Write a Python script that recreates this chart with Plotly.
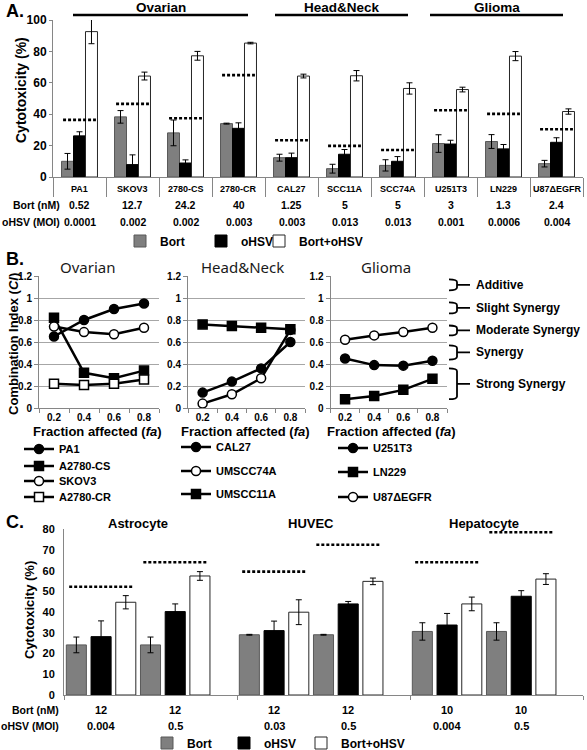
import plotly.graph_objects as go

# ---------------- Panel A data ----------------
cells_A = ["PA1", "SKOV3", "2780-CS", "2780-CR", "CAL27", "SCC11A", "SCC74A", "U251T3", "LN229", "U87ΔEGFR"]
bort_nM_A = ["0.52", "12.7", "24.2", "40", "1.25", "5", "5", "3", "1.3", "2.4"]
ohsv_moi_A = ["0.0001", "0.002", "0.002", "0.003", "0.003", "0.013", "0.013", "0.001", "0.0006", "0.004"]
bort_A = [10, 38.3, 28.1, 34, 12.3, 5.3, 7.4, 21.3, 22.6, 8.5]
bort_A_err = [5, 4, 8.2, 0.3, 2.2, 2.8, 3.6, 5.6, 4.4, 2.1]
ohsv_A = [26.2, 7.9, 8.9, 31, 12.3, 14.5, 10, 21, 17.9, 22.1]
ohsv_A_err = [2.6, 6.2, 2, 3.5, 2.9, 3, 3, 2.4, 2.8, 2.9]
combo_A = [92.6, 64.3, 77.2, 85.3, 64.3, 64.5, 56.4, 55.7, 77, 41.7]
combo_A_err = [7.7, 2.5, 2.8, 0.5, 1.2, 3.3, 3.6, 1.5, 2.9, 1.7]
expected_A = [36.4, 46.6, 37.4, 64.9, 23.4, 19.8, 17.2, 42.5, 40.2, 30.4]
groups_A = ["Ovarian", "Head&Neck", "Glioma"]

# ---------------- Panel B data ----------------
fa = [0.2, 0.4, 0.6, 0.8]
fa_labels = ["0.2", "0.4", "0.6", "0.8"]
titles_B = ["Ovarian", "Head&Neck", "Glioma"]
ov_names = ["PA1", "A2780-CS", "SKOV3", "A2780-CR"]
ov_PA1 = [0.65, 0.80, 0.90, 0.95]
ov_A2780CS = [0.82, 0.32, 0.27, 0.34]
ov_SKOV3 = [0.74, 0.69, 0.67, 0.73]
ov_A2780CR = [0.22, 0.21, 0.22, 0.26]
hn_names = ["CAL27", "UMSCC74A", "UMSCC11A"]
hn_CAL27 = [0.14, 0.24, 0.36, 0.60]
hn_UMSCC74A = [0.04, 0.125, 0.27, 0.71]
hn_UMSCC11A = [0.76, 0.745, 0.73, 0.715]
gl_names = ["U251T3", "LN229", "U87ΔEGFR"]
gl_U251T3 = [0.45, 0.39, 0.385, 0.43]
gl_LN229 = [0.08, 0.11, 0.165, 0.265]
gl_U87 = [0.62, 0.66, 0.69, 0.73]
ci_labels = ["Additive", "Slight Synergy", "Moderate Synergy", "Synergy", "Strong Synergy"]
ci_low = [1.07, 0.86, 0.66, 0.44, 0.08]
ci_high = [1.17, 0.96, 0.75, 0.57, 0.36]

# ---------------- Panel C data ----------------
cells_C = ["Astrocyte", "HUVEC", "Hepatocyte"]
bort_nM_C = ["12", "12", "12", "12", "10", "10"]
ohsv_moi_C = ["0.004", "0.5", "0.03", "0.5", "0.004", "0.5"]
bort_C = [24.2, 24.2, 29.1, 29.1, 30.7, 30.7]
bort_C_err = [3.8, 3.8, 0.2, 0.2, 4.2, 4.2]
ohsv_C = [28.2, 40.3, 31.1, 44.0, 33.8, 47.7]
ohsv_C_err = [7.6, 3.7, 4.6, 1.2, 5.6, 2.7]
combo_C = [44.8, 57.5, 40.0, 54.9, 44.0, 56.0]
combo_C_err = [3.2, 2.1, 6.0, 1.6, 3.3, 2.6]
expected_C = [52.3, 64.1, 59.6, 72.6, 64.1, 78.6]

series_names = ["Bort", "oHSV", "Bort+oHSV"]

# ---------------- helpers / style ----------------
FONT = "Liberation Sans, Arial, sans-serif"
W, H = 587, 750
AXC = "#868686"
GRAY = "#7f7f7f"


def px(x):
    return x / W


def py(y):
    return 1 - y / H


bar_styles = [(GRAY, "#595959"), ("black", "black"), ("white", "#262626")]

fig = go.Figure()
legends = {}
_lc = [0]


def new_legend(x_px, y_px, size):
    _lc[0] += 1
    n = _lc[0]
    name = "legend" if n == 1 else f"legend{n}"
    legends[name] = dict(x=px(x_px), y=py(y_px), xanchor="left", yanchor="middle",
                         bgcolor="rgba(0,0,0,0)", borderwidth=0, itemwidth=30,
                         font=dict(family=FONT, size=size, color="black", weight="bold"))
    return name


ann = []


def text(x, y, s, size, xref="paper", yref="paper", xanchor="center", yanchor="middle",
         weight="bold", family=FONT, angle=0, color="black"):
    ann.append(dict(x=x, y=y, xref=xref, yref=yref, text=s, showarrow=False,
                    xanchor=xanchor, yanchor=yanchor, textangle=angle,
                    font=dict(family=family, size=size, color=color, weight=weight)))


shapes = []

# ---------------- Panel A ----------------
wA = 0.226
series_A = [(bort_A, bort_A_err), (ohsv_A, ohsv_A_err), (combo_A, combo_A_err)]
legA_pos = [(120, 241), (201, 241), (259, 241)]
for j, (vals, errs) in enumerate(series_A):
    fc, lc = bar_styles[j]
    lg = new_legend(legA_pos[j][0], legA_pos[j][1], 12)
    fig.add_trace(go.Bar(
        x=cells_A, y=vals, name=series_names[j], width=wA, offset=(j - 1) * wA - wA / 2,
        marker=dict(color=fc, line=dict(color=lc, width=1)),
        error_y=dict(type="data", array=errs, color="black", thickness=1, width=3),
        xaxis="x", yaxis="y", legend=lg, showlegend=True))

for i, v in enumerate(expected_A):
    shapes.append(dict(type="line", xref="x", yref="y", x0=i - 0.31, x1=i + 0.31, y0=v, y1=v,
                       line=dict(color="black", width=2.6, dash="3px,2px")))

header_lines_px = [(73, 248), (275, 408), (430, 563)]
for g, (a, b) in zip(groups_A, header_lines_px):
    shapes.append(dict(type="line", xref="paper", yref="paper", x0=px(a), x1=px(b), y0=py(15), y1=py(15),
                       line=dict(color="black", width=2.5)))
    text(px((a + b) / 2), py(7.5), g, 13.5)

for i, c in enumerate(cells_A):
    text(c, py(188.5), c, 9, xref="x")
    text(c, py(205), bort_nM_A[i], 10.5, xref="x")
    text(c, py(222), ohsv_moi_A[i], 10.5, xref="x")
text(px(62), py(205), "Bort (nM)", 10.5, xanchor="right")
text(px(62), py(222), "oHSV (MOI)", 10.5, xanchor="right")
text(px(21), py(90), "Cytotoxicity (%)", 14, angle=-90)
text(px(4), py(11), "A.", 18, xanchor="left")

# ---------------- Panel B ----------------
B_sets = [
    ("x2", "y2", [(ov_names[0], ov_PA1, "circle", "black"),
                  (ov_names[1], ov_A2780CS, "square", "black"),
                  (ov_names[2], ov_SKOV3, "circle", "white"),
                  (ov_names[3], ov_A2780CR, "square", "white")],
     19, [449, 466, 481, 497]),
    ("x3", "y3", [(hn_names[0], hn_CAL27, "circle", "black"),
                  (hn_names[1], hn_UMSCC74A, "circle", "white"),
                  (hn_names[2], hn_UMSCC11A, "square", "black")],
     176, [447, 471, 494]),
    ("x4", "y4", [(gl_names[0], gl_U251T3, "circle", "black"),
                  (gl_names[1], gl_LN229, "square", "black"),
                  (gl_names[2], gl_U87, "circle", "white")],
     333, [448, 472, 497]),
]
for xa, ya, series, lx, lys in B_sets:
    for (name, vals, sym, fill), ly in zip(series, lys):
        lg = new_legend(lx, ly, 11)
        fig.add_trace(go.Scatter(
            x=fa, y=vals, name=name, mode="lines+markers",
            line=dict(color="black", width=2.5),
            marker=dict(symbol=sym, size=9, color=fill, line=dict(color="black", width=1.5)),
            xaxis=xa, yaxis=ya, legend=lg, showlegend=True))

B_dom_x = [(39, 159), (188, 305), (330.5, 447)]
B_title_x = [88, 242, 386]
B_xtitle_x = [97, 245, 391]
for t, tx, xx in zip(titles_B, B_title_x, B_xtitle_x):
    text(px(tx), py(267), t, 15, weight="normal", family="Noto Sans, Open Sans, sans-serif", color="#1a1a1a")
    text(px(xx), py(432), "Fraction affected (<i>fa</i>)", 13)
text(px(13), py(344), "Combination Index (<i>CI</i>)", 13, angle=-90)
text(px(4), py(259), "B.", 18, xanchor="left")

BX0, BX1, BX2 = px(449), px(457), px(470)
for lab, lo, hi in zip(ci_labels, ci_low, ci_high):
    mid = (lo + hi) / 2
    r = 0.025
    path = (f"M {BX0},{hi} Q {BX1},{hi} {BX1},{hi - r} L {BX1},{lo + r} Q {BX1},{lo} {BX0},{lo} "
            f"M {BX1},{mid} L {BX2},{mid}")
    shapes.append(dict(type="path", xref="paper", yref="y4", path=path,
                       line=dict(color="black", width=1.8)))
    text(px(474), mid, lab, 12, yref="y4", xanchor="left")

# ---------------- Panel C ----------------
wC = 0.116
slot = 1 / 7
series_C = [(bort_C, bort_C_err), (ohsv_C, ohsv_C_err), (combo_C, combo_C_err)]
legC_pos = [(147, 743), (224, 743), (301, 743)]
legC_names = [None, None, None]
for s in range(2):
    for j, (vals, errs) in enumerate(series_C):
        fc, lc = bar_styles[j]
        k = 3 * s + j
        center = -0.5 + (k + 0.5) * slot
        if s == 0:
            legC_names[j] = new_legend(legC_pos[j][0], legC_pos[j][1], 12)
        fig.add_trace(go.Bar(
            x=cells_C, y=[vals[2 * g + s] for g in range(3)],
            name=series_names[j], width=wC, offset=center - wC / 2,
            marker=dict(color=fc, line=dict(color=lc, width=1)),
            error_y=dict(type="data", array=[errs[2 * g + s] for g in range(3)],
                         color="black", thickness=1, width=3),
            xaxis="x5", yaxis="y5", legend=legC_names[j], showlegend=(s == 0)))

for g in range(3):
    text(g - 0.5 + 3 * slot, py(523), cells_C[g], 13, xref="x5")
    for s in range(2):
        idx = 2 * g + s
        x0 = g - 0.5 + 3 * s * slot + 0.03
        x1 = g - 0.5 + (3 * s + 3) * slot - 0.03
        shapes.append(dict(type="line", xref="x5", yref="y5", x0=x0, x1=x1,
                           y0=expected_C[idx], y1=expected_C[idx],
                           line=dict(color="black", width=2.6, dash="3px,2px")))
        xc = g - 0.5 + (3 * s + 1.5) * slot
        text(xc, py(710), bort_nM_C[idx], 11, xref="x5")
        text(xc, py(725.5), ohsv_moi_C[idx], 11, xref="x5")
text(px(61), py(710), "Bort (nM)", 10.5, xanchor="right")
text(px(61), py(725.5), "oHSV (MOI)", 10.5, xanchor="right")
text(px(29), py(610), "Cytotoxicity (%)", 13, angle=-90)
text(px(4), py(522), "C.", 18, xanchor="left")

# ---------------- axes ----------------
tf = lambda s: dict(family=FONT, size=s, color="black", weight="bold")


def b_xaxis(dom, anchor):
    return dict(domain=[px(dom[0]), px(dom[1])], anchor=anchor, range=[0.1, 0.9], automargin=False,
                tickvals=fa, ticktext=fa_labels, ticks="", showline=True, linecolor=AXC,
                showgrid=False, zeroline=False, tickfont=tf(10), fixedrange=True,
                minor=dict(tick0=0.1, dtick=0.2, ticks="outside", ticklen=4, tickcolor=AXC, showgrid=False))


def b_yaxis(anchor):
    return dict(domain=[py(408), py(276)], anchor=anchor, range=[0, 1.2], dtick=0.2, tick0=0,
                automargin=False, showgrid=True, gridcolor="#a6a6a6", gridwidth=1, showline=True,
                linecolor=AXC, ticks="outside", ticklen=4, tickcolor=AXC, zeroline=False,
                tickfont=tf(10), fixedrange=True)


layout = dict(
    template="none",
    width=W, height=H, margin=dict(l=0, r=0, t=0, b=0, autoexpand=False),
    plot_bgcolor="white", paper_bgcolor="white", barmode="overlay",
    font=dict(family=FONT, color="black"),
    xaxis=dict(domain=[px(53), px(583)], anchor="y", type="category", range=[-0.5, 9.5], automargin=False,
               showline=True, linecolor=AXC, ticks="outside", tickson="boundaries", ticklen=19,
               tickcolor=AXC, showticklabels=False, showgrid=False, zeroline=False, fixedrange=True),
    yaxis=dict(domain=[py(177), py(20)], anchor="x", range=[0, 100], dtick=20, showline=True,
               automargin=False, linecolor=AXC, ticks="outside", ticklen=3, tickcolor=AXC,
               showgrid=False, zeroline=False, tickfont=tf(12), fixedrange=True),
    xaxis2=b_xaxis(B_dom_x[0], "y2"), yaxis2=b_yaxis("x2"),
    xaxis3=b_xaxis(B_dom_x[1], "y3"), yaxis3=b_yaxis("x3"),
    xaxis4=b_xaxis(B_dom_x[2], "y4"), yaxis4=b_yaxis("x4"),
    xaxis5=dict(domain=[px(64), px(583)], anchor="y5", type="category", range=[-0.5, 2.5], automargin=False,
                showline=True, linecolor=AXC, ticks="outside", tickson="boundaries", ticklen=4,
                tickcolor=AXC, showticklabels=False, showgrid=False, zeroline=False, fixedrange=True),
    yaxis5=dict(domain=[py(695), py(529.4)], anchor="x5", range=[0, 80], dtick=10, showline=True,
                automargin=False, linecolor=AXC, ticks="outside", ticklen=6, tickcolor="rgba(0,0,0,0)",
                showgrid=False, zeroline=False, tickfont=tf(11), fixedrange=True),
    annotations=ann, shapes=shapes,
)
layout.update(legends)
fig.update_layout(**layout)
fig.write_html("out.html", config={"displayModeBar": False},
               post_script="document.body.style.margin='0';document.body.style.overflow='hidden';")
